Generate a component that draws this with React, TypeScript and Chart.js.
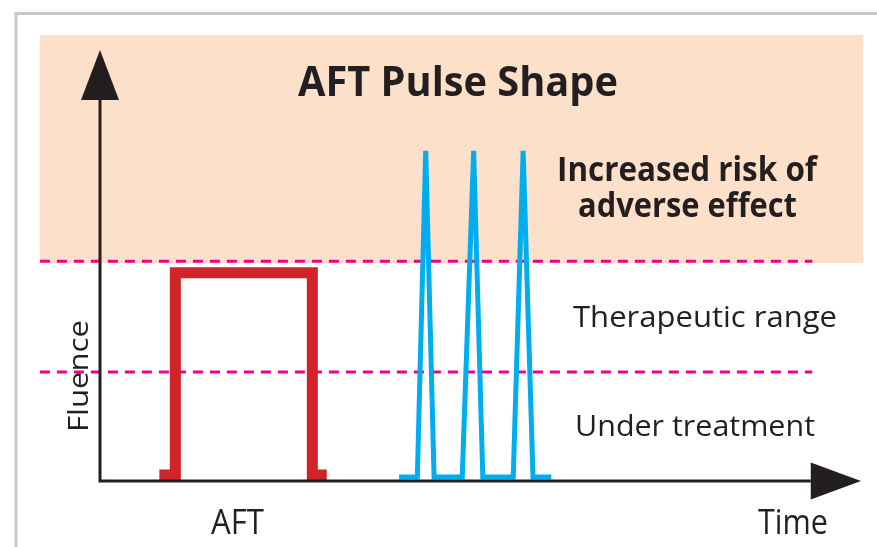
import React, { useEffect, useRef } from "react";
import { Chart, registerables } from "chart.js";

Chart.register(...registerables);

// ---- Data (time units 0-100, fluence units 0-100) ----
const aftTime = [7.8, 9.9, 9.9, 27.9, 27.9, 29.8];
const aftFluence = [1.4, 1.4, 48.3, 48.3, 1.4, 1.4];

const pulseTime = [39.3, 41.7, 42.8, 43.9, 47.6, 49.1, 50.3, 54.3, 55.6, 56.9, 59.3];
const pulseFluence = [0.9, 0.9, 76.6, 0.9, 0.9, 76.6, 0.9, 0.9, 76.6, 0.9, 0.9];

const thresholdSpan = [-7.9, 93.6];
const upperThreshold = 51.0;
const lowerThreshold = 25.3;

const riskBandX = [-7.9, 100.3];
const riskBandY = [50.6, 103.5];

const yArrowBase = 88.4;
const xArrowBase = 93.4;

const titleText = "AFT Pulse Shape";
const riskLines = ["Increased risk of", "adverse effect"];
const therapeuticLabel = "Therapeutic range";
const underLabel = "Under treatment";
const yAxisLabel = "Fluence";
const aftLabel = "AFT";
const xAxisLabel = "Time";

const INK = "#231f20";
const FONT = '"Open Sans", "Noto Sans", sans-serif';

function fitText(
  ctx: CanvasRenderingContext2D,
  text: string,
  left: number,
  baseline: number,
  font: string,
  width: number,
  rotate = 0
) {
  ctx.save();
  ctx.font = font;
  ctx.fillStyle = INK;
  ctx.textAlign = "left";
  ctx.textBaseline = "alphabetic";
  const w = ctx.measureText(text).width;
  ctx.translate(left, baseline);
  if (rotate) ctx.rotate(rotate);
  ctx.scale(width / w, 1);
  ctx.fillText(text, 0, 0);
  ctx.restore();
}

const decorPlugin = {
  id: "decor",
  beforeDatasetsDraw(chart: any) {
    const ctx: CanvasRenderingContext2D = chart.ctx;
    const xs = chart.scales.x;
    const ys = chart.scales.y;
    ctx.save();
    // frame
    ctx.strokeStyle = "#c8c8ca";
    ctx.lineWidth = 3;
    ctx.beginPath();
    ctx.moveTo(15, 13.5);
    ctx.lineTo(877, 13.5);
    ctx.moveTo(16, 12);
    ctx.lineTo(16, 547);
    ctx.stroke();
    // risk band
    const bx0 = xs.getPixelForValue(riskBandX[0]);
    const bx1 = xs.getPixelForValue(riskBandX[1]);
    const by0 = ys.getPixelForValue(riskBandY[0]);
    const by1 = ys.getPixelForValue(riskBandY[1]);
    ctx.fillStyle = "#fde0c9";
    ctx.fillRect(bx0, by1, bx1 - bx0, by0 - by1);
    ctx.restore();
  },
  afterDatasetsDraw(chart: any) {
    const ctx: CanvasRenderingContext2D = chart.ctx;
    const xs = chart.scales.x;
    const ys = chart.scales.y;
    const x0 = xs.getPixelForValue(0);
    const y0 = ys.getPixelForValue(0);
    const yTop = ys.getPixelForValue(ys.max);
    const xEnd = xs.getPixelForValue(xs.max);
    const yBase = ys.getPixelForValue(yArrowBase);
    const xBase = xs.getPixelForValue(xArrowBase);
    ctx.save();
    ctx.strokeStyle = INK;
    ctx.fillStyle = INK;
    ctx.lineWidth = 3;
    ctx.beginPath();
    ctx.moveTo(x0, y0 + 1.5);
    ctx.lineTo(x0, yBase);
    ctx.moveTo(x0 - 1.5, y0);
    ctx.lineTo(xBase, y0);
    ctx.stroke();
    ctx.beginPath();
    ctx.moveTo(x0, yTop);
    ctx.lineTo(x0 - 19, yBase);
    ctx.lineTo(x0 + 19, yBase);
    ctx.closePath();
    ctx.fill();
    ctx.beginPath();
    ctx.moveTo(xEnd, y0);
    ctx.lineTo(xBase, y0 - 18.5);
    ctx.lineTo(xBase, y0 + 18.5);
    ctx.closePath();
    ctx.fill();
    ctx.restore();

    fitText(ctx, titleText, 298, 96, `bold 42px ${FONT}`, 320);
    fitText(ctx, riskLines[0], 557, 181, `bold 34px ${FONT}`, 260);
    fitText(ctx, riskLines[1], 578, 217, `bold 34px ${FONT}`, 219);
    fitText(ctx, therapeuticLabel, 573, 327, `500 29px ${FONT}`, 264);
    fitText(ctx, underLabel, 575, 436, `500 30px ${FONT}`, 240);
    fitText(ctx, yAxisLabel, 88, 432, `500 28px ${FONT}`, 112, -Math.PI / 2);
    fitText(ctx, aftLabel, 211, 534, `500 35px ${FONT}`, 53);
    fitText(ctx, xAxisLabel, 758, 534, `500 34px ${FONT}`, 70);
  },
};

export default function App() {
  const ref = useRef<HTMLCanvasElement | null>(null);
  useEffect(() => {
    if (!ref.current) return;
    const chart = new Chart(ref.current, {
      type: "line",
      data: {
        datasets: [
          {
            label: "AFT",
            data: aftTime.map((x, i) => ({ x, y: aftFluence[i] })),
            borderColor: "#d2232a",
            borderWidth: 11,
            borderJoinStyle: "miter",
            borderCapStyle: "butt",
            pointRadius: 0,
            tension: 0,
            clip: false,
            order: 0,
          },
          {
            label: "Short pulses",
            data: pulseTime.map((x, i) => ({ x, y: pulseFluence[i] })),
            borderColor: "#00aeef",
            borderWidth: 5,
            borderJoinStyle: "miter",
            borderCapStyle: "butt",
            pointRadius: 0,
            tension: 0,
            clip: false,
            order: 0,
          },
          {
            label: "Upper threshold",
            data: thresholdSpan.map((x) => ({ x, y: upperThreshold })),
            borderColor: "#ec008c",
            borderWidth: 3,
            borderDash: [10, 7],
            pointRadius: 0,
            clip: false,
            order: 1,
          },
          {
            label: "Lower threshold",
            data: thresholdSpan.map((x) => ({ x, y: lowerThreshold })),
            borderColor: "#ec008c",
            borderWidth: 3,
            borderDash: [10, 7],
            pointRadius: 0,
            clip: false,
            order: 1,
          },
        ],
      } as any,
      options: {
        responsive: false,
        animation: false,
        devicePixelRatio: 1,
        layout: { padding: { left: 100, right: 16, top: 50, bottom: 66 } },
        plugins: { legend: { display: false }, tooltip: { enabled: false } },
        events: [],
        scales: {
          x: { type: "linear", min: 0, max: 100, display: false },
          y: { type: "linear", min: 0, max: 100, display: false },
        },
      } as any,
      plugins: [decorPlugin],
    });
    return () => chart.destroy();
  }, []);
  return (
    <div style={{ position: "fixed", left: 0, top: 0, width: 877, height: 547, background: "#fff" }}>
      <canvas ref={ref} width={877} height={547} style={{ display: "block" }} />
    </div>
  );
}
